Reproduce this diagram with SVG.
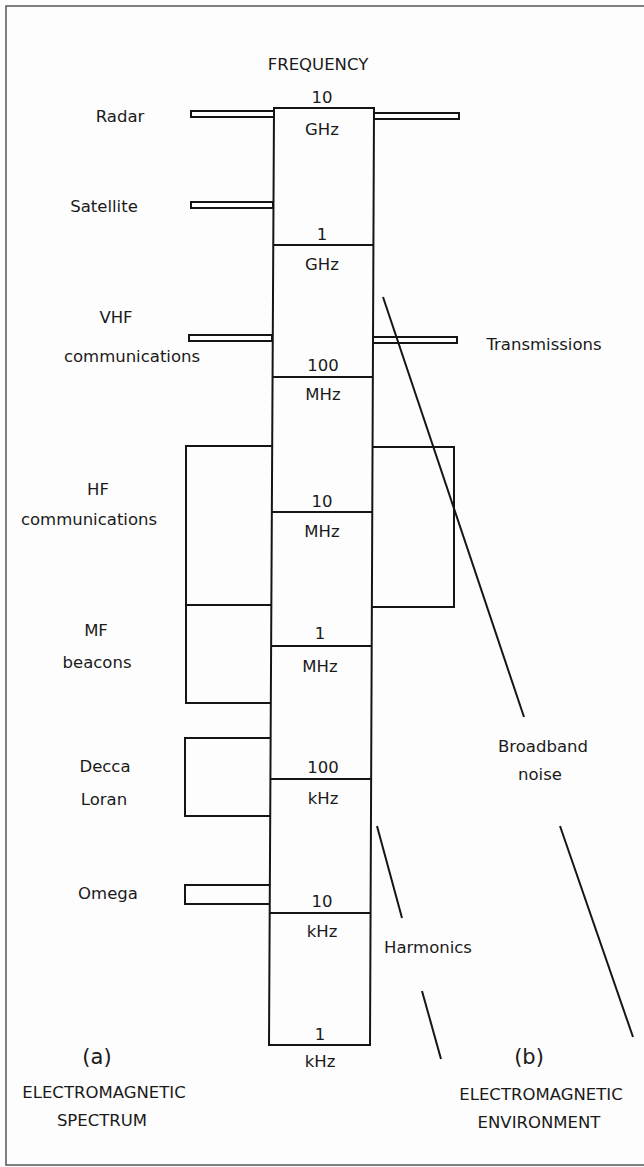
<svg xmlns="http://www.w3.org/2000/svg" width="644" height="1167" viewBox="0 0 644 1167">
<style>
.ln{fill:none;stroke:#151515;stroke-width:2;stroke-linejoin:miter}
.bar{fill:#fff;stroke:#151515;stroke-width:2}
.t{font-family:"DejaVu Sans",sans-serif;font-size:16.5px;fill:#1a1a1a;text-anchor:middle}
.big{font-size:21px}
</style>
<rect x="0" y="0" width="644" height="1167" fill="#fdfdfd"/>
<rect x="6" y="6" width="642" height="1159" fill="none" stroke="#555" stroke-width="1.5"/>
<text class="t" x="318" y="70">FREQUENCY</text>
<g id="column">
<path class="ln" d="M274,108 L374,108 L370,1045 L269,1045 Z"/>
<line class="ln" x1="273.3" y1="245" x2="373.4" y2="245"/>
<line class="ln" x1="272.6" y1="377" x2="372.9" y2="377"/>
<line class="ln" x1="271.9" y1="512" x2="372.3" y2="512"/>
<line class="ln" x1="271.2" y1="646" x2="371.7" y2="646"/>
<line class="ln" x1="270.5" y1="779" x2="371.1" y2="779"/>
<line class="ln" x1="269.8" y1="913" x2="370.6" y2="913"/>
<text class="t" x="322" y="103">10</text><text class="t" x="322" y="135">GHz</text>
<text class="t" x="322" y="240">1</text><text class="t" x="322" y="270">GHz</text>
<text class="t" x="323" y="371">100</text><text class="t" x="323" y="400">MHz</text>
<text class="t" x="322" y="507">10</text><text class="t" x="322" y="537">MHz</text>
<text class="t" x="320" y="639">1</text><text class="t" x="320" y="672">MHz</text>
<text class="t" x="323" y="773">100</text><text class="t" x="323" y="804">kHz</text>
<text class="t" x="322" y="907">10</text><text class="t" x="322" y="937">kHz</text>
<text class="t" x="320" y="1040">1</text><text class="t" x="320" y="1067">kHz</text>
</g>
<g id="radar">
<rect class="bar" x="191" y="111" width="83" height="6"/>
<rect class="bar" x="374" y="113" width="85" height="6"/>
<text class="t" x="120" y="122">Radar</text>
</g>
<g id="satellite">
<rect class="bar" x="191" y="202" width="82" height="6"/>
<text class="t" x="104" y="212">Satellite</text>
</g>
<g id="vhf">
<rect class="bar" x="189" y="335" width="83" height="6"/>
<rect class="bar" x="373" y="337" width="84" height="6"/>
<text class="t" x="116" y="323">VHF</text>
<text class="t" x="132" y="362">communications</text>
</g>
<g id="transmissions">
<text class="t" x="544" y="350">Transmissions</text>
</g>
<g id="hf">
<polyline class="ln" points="272,446 186,446 186,703 271,703"/>
<line class="ln" x1="186" y1="605" x2="271" y2="605"/>
<polyline class="ln" points="372,447 454,447 454,607 372,607"/>
<text class="t" x="98" y="495">HF</text>
<text class="t" x="89" y="525">communications</text>
</g>
<g id="mf">
<text class="t" x="96" y="636">MF</text>
<text class="t" x="97" y="668">beacons</text>
</g>
<g id="decca">
<polyline class="ln" points="270.6,738 185,738 185,816 270.4,816"/>
<text class="t" x="105" y="772">Decca</text>
<text class="t" x="104" y="805">Loran</text>
</g>
<g id="omega">
<polyline class="ln" points="269.9,885 185,885 185,904 269.8,904"/>
<text class="t" x="108" y="899">Omega</text>
</g>
<g id="connectors">
<line class="ln" x1="383" y1="297" x2="524" y2="717"/>
<line class="ln" x1="560" y1="826" x2="633" y2="1037"/>
<line class="ln" x1="377" y1="826" x2="402" y2="918"/>
<line class="ln" x1="422" y1="991" x2="441" y2="1059"/>
</g>
<g id="broadband">
<text class="t" x="543" y="752">Broadband</text>
<text class="t" x="540" y="780">noise</text>
</g>
<g id="harmonics">
<text class="t" x="428" y="953">Harmonics</text>
</g>
<g id="captions">
<text class="t big" x="97" y="1064">(a)</text>
<text class="t" x="104" y="1098">ELECTROMAGNETIC</text>
<text class="t" x="102" y="1126">SPECTRUM</text>
<text class="t big" x="529" y="1064">(b)</text>
<text class="t" x="541" y="1100">ELECTROMAGNETIC</text>
<text class="t" x="539" y="1128">ENVIRONMENT</text>
</g>
</svg>
